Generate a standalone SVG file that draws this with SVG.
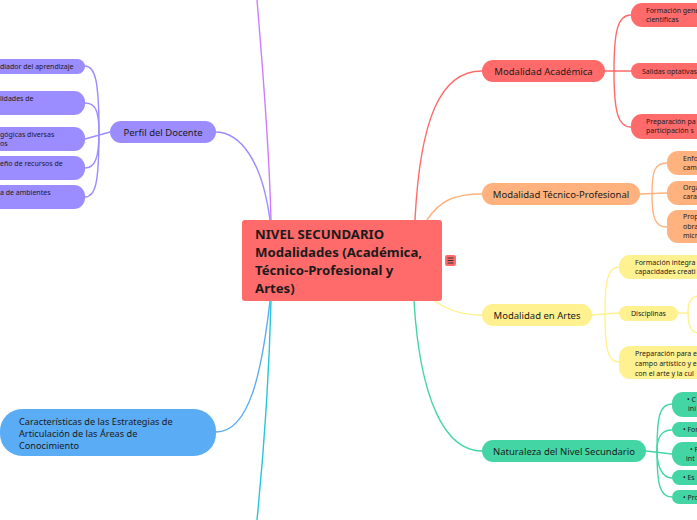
<svg xmlns="http://www.w3.org/2000/svg" width="697" height="520" viewBox="0 0 697 520">
<style>
text{font-family:"Noto Sans","Open Sans","DejaVu Sans",sans-serif;fill:#1b1b1b}
.b{font-size:9.5px}
.s{font-size:7px}
.c{font-size:13.2px;font-weight:bold}
.k{fill:none;stroke-width:1.4;stroke-linecap:round}
.red{fill:#ff6b6b}.ora{fill:#ffb27d}.yel{fill:#fff18f}.grn{fill:#43d6a4}.pur{fill:#9b8cff}.blu{fill:#5aacf5}
</style>
<rect width="697" height="520" fill="#ffffff"/>
<g id="connectors">
<path class="k" stroke="#cc7dff" d="M271,220 C269,140 262,60 257,0"/>
<path class="k" stroke="#9b8cff" d="M270,220 C262,160 240,132 215,132"/>
<path class="k" stroke="#5aacf5" d="M270,301 C262,370 250,432 216,432"/>
<path class="k" stroke="#26c6da" d="M271,301 C269,380 262,470 257,520"/>
<path class="k" stroke="#ff6b6b" d="M415,220 C420,120 440,71 482,71"/>
<path class="k" stroke="#ffb27d" d="M427,220 C440,200 455,194 482,194"/>
<path class="k" stroke="#fff18f" d="M435,301 C450,312 465,315 482,315"/>
<path class="k" stroke="#43d6a4" d="M414,301 C420,400 445,451 482,451"/>
<g stroke="#ff6b6b" class="k">
<path d="M605,71 L631,71"/>
<path d="M614,71 C614,30 618,15 631,15"/>
<path d="M614,71 C614,112 618,127 631,127"/>
</g>
<g stroke="#ffb27d" class="k">
<path d="M640,194 L667,193"/>
<path d="M652,194 C652,170 655,163 667,163"/>
<path d="M652,194 C652,218 655,227 667,227"/>
</g>
<g stroke="#fff18f" class="k">
<path d="M592,315 L619,313"/>
<path d="M605,314 C605,280 608,267 619,267"/>
<path d="M605,314 C605,350 608,362 619,362"/>
<path d="M678,313 L688,313"/>
<path d="M688,313 C688,300 692,296 700,296"/>
<path d="M688,313 C688,328 692,333 700,333"/>
</g>
<g stroke="#43d6a4" class="k">
<path d="M646,451 L672,454"/>
<path d="M657,451 C657,415 660,404 672,404"/>
<path d="M657,451 C657,436 662,430 672,430"/>
<path d="M657,451 C657,466 662,478 672,478"/>
<path d="M657,451 C657,485 660,497 672,497"/>
</g>
<g stroke="#9b8cff" class="k">
<path d="M110,132 L85,139"/>
<path d="M99,132 C99,80 95,66 85,66"/>
<path d="M99,132 C99,110 95,103 85,103"/>
<path d="M99,132 C99,158 95,168 85,168"/>
<path d="M99,132 C99,185 95,197 85,197"/>
</g>
</g>
<g id="central">
<rect x="242" y="220" width="200" height="81" rx="3" fill="#ff6b6b"/>
<text class="c" x="255" y="238.5">NIVEL SECUNDARIO</text>
<text class="c" x="255" y="256.5">Modalidades (Académica,</text>
<text class="c" x="255" y="274.5">Técnico-Profesional y</text>
<text class="c" x="255" y="292.5">Artes)</text>
</g>
<g id="icon">
<rect x="445" y="255" width="11" height="11" rx="2" fill="#ff6b6b"/>
<path d="M447.5,258 h6 M447.5,260.5 h6 M447.5,263 h6" stroke="#333" stroke-width="1"/>
</g>
<g id="modalidad-academica">
<rect class="red" x="482" y="60" width="123" height="22" rx="11"/>
<text class="b" x="543.5" y="74.5" text-anchor="middle">Modalidad Académica</text>
</g>
<g id="ma-1"><rect class="red" x="631" y="3" width="90" height="24" rx="11"/>
<text class="s" x="646" y="13">Formación gene</text><text class="s" x="646" y="22">científicas</text></g>
<g id="ma-2"><rect class="red" x="631" y="63" width="90" height="16" rx="8"/>
<text class="s" x="642" y="73.5">Salidas optativas</text></g>
<g id="ma-3"><rect class="red" x="631" y="114" width="90" height="25" rx="11"/>
<text class="s" x="646" y="124">Preparación pa</text><text class="s" x="646" y="133">participación s</text></g>
<g id="modalidad-tecnico">
<rect class="ora" x="482" y="183" width="158" height="22" rx="11"/>
<text class="b" x="561" y="197.5" text-anchor="middle">Modalidad Técnico-Profesional</text>
</g>
<g id="mt-1"><rect class="ora" x="667" y="151" width="60" height="24" rx="11"/>
<text class="s" x="683" y="161">Enfo</text><text class="s" x="683" y="170">cam</text></g>
<g id="mt-2"><rect class="ora" x="667" y="181" width="60" height="24" rx="11"/>
<text class="s" x="683" y="190">Orga</text><text class="s" x="683" y="199">cara</text></g>
<g id="mt-3"><rect class="ora" x="667" y="210" width="60" height="33" rx="11"/>
<text class="s" x="683" y="219">Prop</text><text class="s" x="683" y="228.5">obra</text><text class="s" x="683" y="238">micr</text></g>
<g id="modalidad-artes">
<rect class="yel" x="482" y="304" width="110" height="22" rx="11"/>
<text class="b" x="537" y="318.5" text-anchor="middle">Modalidad en Artes</text>
</g>
<g id="mr-1"><rect class="yel" x="619" y="255" width="100" height="24" rx="11"/>
<text class="s" x="635" y="265">Formación integra</text><text class="s" x="635" y="274">capacidades creati</text></g>
<g id="mr-2"><rect class="yel" x="619" y="306" width="59" height="15" rx="7.5"/>
<text class="s" x="631" y="316">Disciplinas</text></g>
<g id="mr-3"><rect class="yel" x="619" y="346" width="100" height="33" rx="11"/>
<text class="s" x="635" y="356">Preparación para e</text><text class="s" x="635" y="366">campo artístico y e</text><text class="s" x="635" y="376">con el arte y la cul</text></g>
<g id="naturaleza">
<rect class="grn" x="482" y="440" width="164" height="22" rx="11"/>
<text class="b" x="564" y="454.5" text-anchor="middle">Naturaleza del Nivel Secundario</text>
</g>
<g id="mn-1"><rect class="grn" x="672" y="392" width="60" height="25" rx="11"/>
<text class="s" x="687" y="402">• C</text><text class="s" x="688" y="411">ini</text></g>
<g id="mn-2"><rect class="grn" x="672" y="422" width="60" height="15" rx="7.5"/>
<text class="s" x="683" y="432">• For</text></g>
<g id="mn-3"><rect class="grn" x="672" y="442" width="60" height="24" rx="11"/>
<text class="s" x="690" y="452">• P</text><text class="s" x="686" y="461">int</text></g>
<g id="mn-4"><rect class="grn" x="672" y="470" width="60" height="15" rx="7.5"/>
<text class="s" x="683" y="480">• Es</text></g>
<g id="mn-5"><rect class="grn" x="672" y="490" width="60" height="14" rx="7"/>
<text class="s" x="683" y="499.5">• Pro</text></g>
<g id="perfil-docente">
<rect class="pur" x="110" y="121" width="106" height="22" rx="11"/>
<text class="b" x="163" y="135.5" text-anchor="middle">Perfil del Docente</text>
</g>
<g id="pd-1"><rect class="pur" x="-60" y="59" width="145" height="15" rx="7.5"/>
<text class="s" x="0" y="69">diador del aprendizaje</text></g>
<g id="pd-2"><rect class="pur" x="-60" y="91" width="145" height="24" rx="11"/>
<text class="s" x="0" y="100.5">lidades de</text></g>
<g id="pd-3"><rect class="pur" x="-60" y="127" width="145" height="24" rx="11"/>
<text class="s" x="0" y="137">gógicas diversas</text><text class="s" x="0" y="146">os</text></g>
<g id="pd-4"><rect class="pur" x="-60" y="156" width="145" height="24" rx="11"/>
<text class="s" x="0" y="165.5">eño de recursos de</text></g>
<g id="pd-5"><rect class="pur" x="-60" y="185" width="145" height="24" rx="11"/>
<text class="s" x="0" y="195">a de ambientes</text></g>
<g id="caracteristicas">
<rect class="blu" x="0" y="409" width="216" height="47" rx="22"/>
<text x="19" y="424.5" font-size="9.2">Características de las Estrategias de</text>
<text x="19" y="436.5" font-size="9.2">Articulación de las Áreas de</text>
<text x="19" y="448.5" font-size="9.2">Conocimiento</text>
</g>
</svg>
